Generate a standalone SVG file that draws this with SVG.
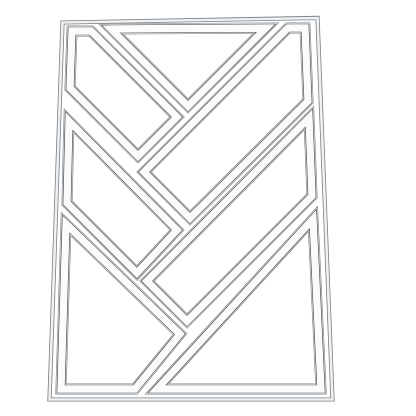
<svg xmlns="http://www.w3.org/2000/svg" xmlns:xlink="http://www.w3.org/1999/xlink" width="416" height="416" viewBox="0 0 416 416">
<style>
.l1{fill:none;stroke:#80868b;stroke-width:11;stroke-linejoin:miter;stroke-miterlimit:8}
.l2{fill:none;stroke:#e6e9eb;stroke-width:9.8;stroke-linejoin:miter;stroke-miterlimit:8}
.l3{fill:none;stroke:#474c50;stroke-width:8.6;stroke-linejoin:miter;stroke-miterlimit:8}
.l4{fill:none;stroke:#fbfbfb;stroke-width:7.3;stroke-linejoin:miter;stroke-miterlimit:8}
.f1{fill:none;stroke:#7b8186;stroke-width:4.2;stroke-linejoin:miter}
.f2{fill:none;stroke:#eff1f2;stroke-width:2.6;stroke-linejoin:miter}
</style>
<defs>
<path id="pT" d="M111,29 L266,28 L188,106 Z"/>
<path id="pL1" d="M72,31 L91,31 L177,117 L138,156 L70,88 Z"/>
<path id="pR1" d="M288,28 L305,28 L308,101 L190,218 L144,172 Z"/>
<path id="pL2" d="M69,121 L177,230 L137,273 L67,203 Z"/>
<path id="pR2" d="M309,118 L312,196 L187,321 L147,281 Z"/>
<path id="pL3" d="M66,224 L180,334 L135,389 L61,389 Z"/>
<path id="pR3" d="M313,219 L321,389 L157,389 Z"/>
<path id="frm" d="M62.5,22.5 L317.5,18 L332.5,399.5 L49.5,399.5 Z"/>
</defs>
<rect width="416" height="416" fill="#ffffff"/>
<g id="frame">
<use xlink:href="#frm" class="f1"/>
<use xlink:href="#frm" class="f2"/>
</g>
<g id="piece-top-triangle">
<use xlink:href="#pT" class="l1"/><use xlink:href="#pT" class="l2"/><use xlink:href="#pT" class="l3"/><use xlink:href="#pT" class="l4"/>
</g>
<g id="piece-left-1">
<use xlink:href="#pL1" class="l1"/><use xlink:href="#pL1" class="l2"/><use xlink:href="#pL1" class="l3"/><use xlink:href="#pL1" class="l4"/>
</g>
<g id="piece-right-1">
<use xlink:href="#pR1" class="l1"/><use xlink:href="#pR1" class="l2"/><use xlink:href="#pR1" class="l3"/><use xlink:href="#pR1" class="l4"/>
</g>
<g id="piece-left-2">
<use xlink:href="#pL2" class="l1"/><use xlink:href="#pL2" class="l2"/><use xlink:href="#pL2" class="l3"/><use xlink:href="#pL2" class="l4"/>
</g>
<g id="piece-right-2">
<use xlink:href="#pR2" class="l1"/><use xlink:href="#pR2" class="l2"/><use xlink:href="#pR2" class="l3"/><use xlink:href="#pR2" class="l4"/>
</g>
<g id="piece-left-3">
<use xlink:href="#pL3" class="l1"/><use xlink:href="#pL3" class="l2"/><use xlink:href="#pL3" class="l3"/><use xlink:href="#pL3" class="l4"/>
</g>
<g id="piece-right-3">
<use xlink:href="#pR3" class="l1"/><use xlink:href="#pR3" class="l2"/><use xlink:href="#pR3" class="l3"/><use xlink:href="#pR3" class="l4"/>
</g>
</svg>
